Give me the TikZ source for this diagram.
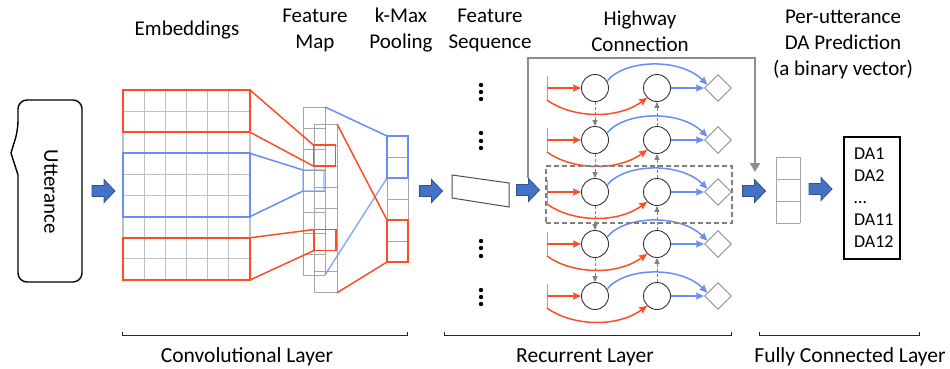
\documentclass[tikz,border=0pt]{standalone}
\usepackage{fontspec}
\setmainfont{Carlito}
\usetikzlibrary{arrows.meta,shapes.geometric}
\definecolor{myred}{RGB}{250,78,40}
\definecolor{myblue}{RGB}{105,140,245}
\definecolor{arrfill}{RGB}{68,114,196}
\definecolor{arrdraw}{RGB}{47,82,143}
\definecolor{gridgray}{RGB}{192,192,192}
\definecolor{colgray}{RGB}{165,165,165}
\definecolor{dgray}{RGB}{128,128,128}
\tikzset{
  barrow/.pic={\draw[draw=arrdraw, fill=arrfill, line width=0.8pt]
     (-11.5,-5.5) -- (0.5,-5.5) -- (0.5,-11.5) -- (11.5,0) -- (0.5,11.5) -- (0.5,5.5) -- (-11.5,5.5) -- cycle;},
  gridline/.style={draw=gridgray, line width=1.2pt},
  colline/.style={draw=colgray, line width=0.9pt},
  redbox/.style={draw=myred, line width=1.8pt, inner sep=0pt, outer sep=0pt},
  bluebox/.style={draw=myblue, line width=1.8pt, inner sep=0pt, outer sep=0pt},
  plainbox/.style={inner sep=0pt, outer sep=0pt},
  redline/.style={draw=myred, line width=1.5pt},
  blueline/.style={draw=myblue, line width=1.5pt},
  neuron/.style={circle, draw=black!80, line width=0.9pt, minimum size=27pt, inner sep=0pt},
  outd/.style={diamond, draw=black!45, line width=0.9pt, minimum width=27pt, minimum height=27pt, inner sep=0pt},
  redarr/.style={draw=myred, line width=1.5pt, -{Stealth[length=8pt,width=7pt,inset=1pt]}},
  bluearr/.style={draw=myblue, line width=1.5pt, -{Stealth[length=8pt,width=7pt,inset=1pt]}},
  dasharr/.style={draw=dgray, line width=0.9pt, dash pattern=on 3pt off 2pt, -{Triangle[length=6pt,width=5pt]}},
  stub/.style={draw=black!35, line width=0.6pt},
  hwline/.style={draw=dgray!90, line width=1.8pt},
  toplabel/.style={align=center, font=\fontsize{21}{26}\selectfont},
  botlabel/.style={font=\fontsize{21.5}{26}\selectfont},
  brk/.style={draw=black!85, line width=0.9pt},
}
\begin{document}
\begin{tikzpicture}[x=1pt,y=-1pt]
\useasboundingbox (0,0) rectangle (950,368);

% ---------- Utterance ----------
\draw[line width=1.4pt, rounded corners=9pt] (18,175) -- (18,282) -- (82,282) -- (82,100) -- (18,100) -- (18,130) [sharp corners] -- (11,153) -- cycle;
\node[rotate=-90, font=\fontsize{21}{24}\selectfont] (utt) at (51,192) {Utterance};
\pic at (103.5,191) {barrow};

% ---------- Embeddings grid ----------
\foreach \i in {0,...,6} \draw[gridline] ({123+\i*127/6},90) -- ({123+\i*127/6},280);
\foreach \j in {0,...,9} \draw[gridline] (123,{90+\j*190/9}) -- (250,{90+\j*190/9});
\node[redbox, minimum width=127pt, minimum height=42.2pt] (er1) at (186.5,111.1) {};
\node[bluebox, minimum width=127pt, minimum height=63.3pt] (eb) at (186.5,185) {};
\node[redbox, minimum width=127pt, minimum height=42.2pt] (er2) at (186.5,258.9) {};

% ---------- Feature map ----------
\foreach \j in {0,...,8} \draw[colline] (303,{107+\j*21}) -- (325,{107+\j*21});
\draw[colline] (303,107) -- (303,275) (325,107) -- (325,275);
\foreach \j in {0,...,8} \draw[colline] (314,{124+\j*21.1}) -- (337,{124+\j*21.1});
\draw[colline] (314,124) -- (314,292.8) (337,124) -- (337,292.8);
\node[plainbox, minimum width=22pt, minimum height=168pt] (fmb) at (314,191) {};
\node[plainbox, minimum width=23pt, minimum height=168.8pt] (fmf) at (325.5,208.4) {};
\node[redbox, minimum width=22pt, minimum height=21pt] (fr1) at (324.5,155.6) {};
\node[bluebox, draw opacity=0.45, minimum width=21pt, minimum height=21pt] (fb) at (313.5,180.5) {};
\node[redbox, minimum width=22pt, minimum height=21pt] (fr2) at (325,240) {};

\draw[redline] (er1.north east) -- (fr1.north west);
\draw[redline] (er1.south east) -- (fr1.south west);
\draw[blueline] (eb.north east) -- (fb.north west);
\draw[blueline] (eb.south east) -- (fb.south west);
\draw[redline] (er2.north east) -- (fr2.north west);
\draw[redline] (er2.south east) -- (fr2.south west);

% ---------- k-max pooling ----------
\foreach \j in {0,...,6} \draw[colline] (387,{136+\j*21}) -- (408,{136+\j*21});
\draw[colline] (387,136) -- (387,262) (408,136) -- (408,262);
\node[bluebox, minimum width=21pt, minimum height=42pt] (kb) at (397.5,157) {};
\node[redbox, minimum width=21pt, minimum height=42pt] (kr) at (397.5,241) {};
\draw[blueline] (fmb.north east) -- (kb.north west);
\draw[blueline, draw opacity=0.75] (fmb.south east) -- (kb.south west);
\draw[redline] (fmf.north east) -- (kr.north west);
\draw[redline] (fmf.south east) -- (kr.south west);
\pic at (431,191) {barrow};

% ---------- Feature sequence ----------
\draw[draw=black!70, line width=1pt] (452,175) -- (509,183) -- (509,207) -- (452,198) -- cycle;
\foreach \y in {85,92,99,133,141,148,241,248,256,290,297,304} \fill (481,\y) circle (2.2pt);
\pic at (528,190) {barrow};

% ---------- Highway connection ----------
\coordinate (hwA) at (528,178);
\coordinate (hwB) at (755,172);
\draw[hwline, -{Triangle[length=9pt,width=10pt]}] (hwA) -- (528,58) -- (755,58) -- (hwB);

% ---------- Recurrent layer ----------
\foreach \r/\y in {1/88,2/140,3/192,4/244,5/296} {
  \node[neuron] (a\r) at (595,\y) {};
  \node[neuron] (b\r) at (657,\y) {};
  \node[outd] (o\r) at (718,\y) {};
  \coordinate (s\r) at (547,\y);
  \coordinate (t\r) at (547,{\y+12});
  \coordinate (u\r) at (547,{\y-12});
  \draw[stub] (u\r) -- (t\r);
  \draw[redarr] (s\r) -- (a\r);
  \draw[redarr] (t\r) .. controls +(23,17) and +(-32,23) .. (b\r.south west);
  \draw[bluearr] (a\r.30) .. controls +(18,-22) and +(-27,-27) .. (o\r.163);
  \draw[bluearr] (b\r) -- (o\r);
}
\foreach \r/\n in {1/2,2/3,3/4,4/5} {
  \draw[dasharr] (a\r) -- (a\n);
  \draw[dasharr] (b\n) -- (b\r);
}
\node[draw=dgray, line width=1.5pt, dash pattern=on 5pt off 3pt, minimum width=186pt, minimum height=57pt, inner sep=0pt] (hl) at (639,194.5) {};

% ---------- Fully connected ----------
\pic at (754,191) {barrow};
\foreach \j in {0,...,3} \draw[colline] (776,{157+\j*22}) -- (800,{157+\j*22});
\draw[colline] (776,157) -- (776,223) (800,157) -- (800,223);
\pic at (820.5,189) {barrow};
\node[draw=black, line width=1.5pt, align=left, text width=36pt, inner xsep=10pt, minimum height=122pt,
      font=\fontsize{18}{22}\selectfont] (da) at (872,198) {DA1\\DA2\\…\\DA11\\DA12};

% ---------- Top labels ----------
\node[toplabel] (lemb) at (187,30) {Embeddings};
\node[toplabel] (lfm) at (315,30) {Feature\\Map};
\node[toplabel] (lkm) at (401,30) {k-Max\\Pooling};
\node[toplabel] (lfs) at (490,30) {Feature\\Sequence};
\node[toplabel] (lhw) at (640,31) {Highway\\Connection};
\node[toplabel] (lda) at (843,44) {Per-utterance\\DA Prediction\\(a binary vector)};

% ---------- Bottom brackets ----------
\draw[brk] (122,331.5) -- (122,335.5) -- (407,335.5) -- (407,331.5);
\draw[brk] (444,331.5) -- (444,335.5) -- (731,335.5) -- (731,331.5);
\draw[brk] (759,331.5) -- (759,335.5) -- (919,335.5) -- (919,331.5);
\node[botlabel] (lconv) at (247,357) {Convolutional Layer};
\node[botlabel] (lrec) at (585,357) {Recurrent Layer};
\node[botlabel] (lfc) at (850,357) {Fully Connected Layer};
\end{tikzpicture}
\end{document}
